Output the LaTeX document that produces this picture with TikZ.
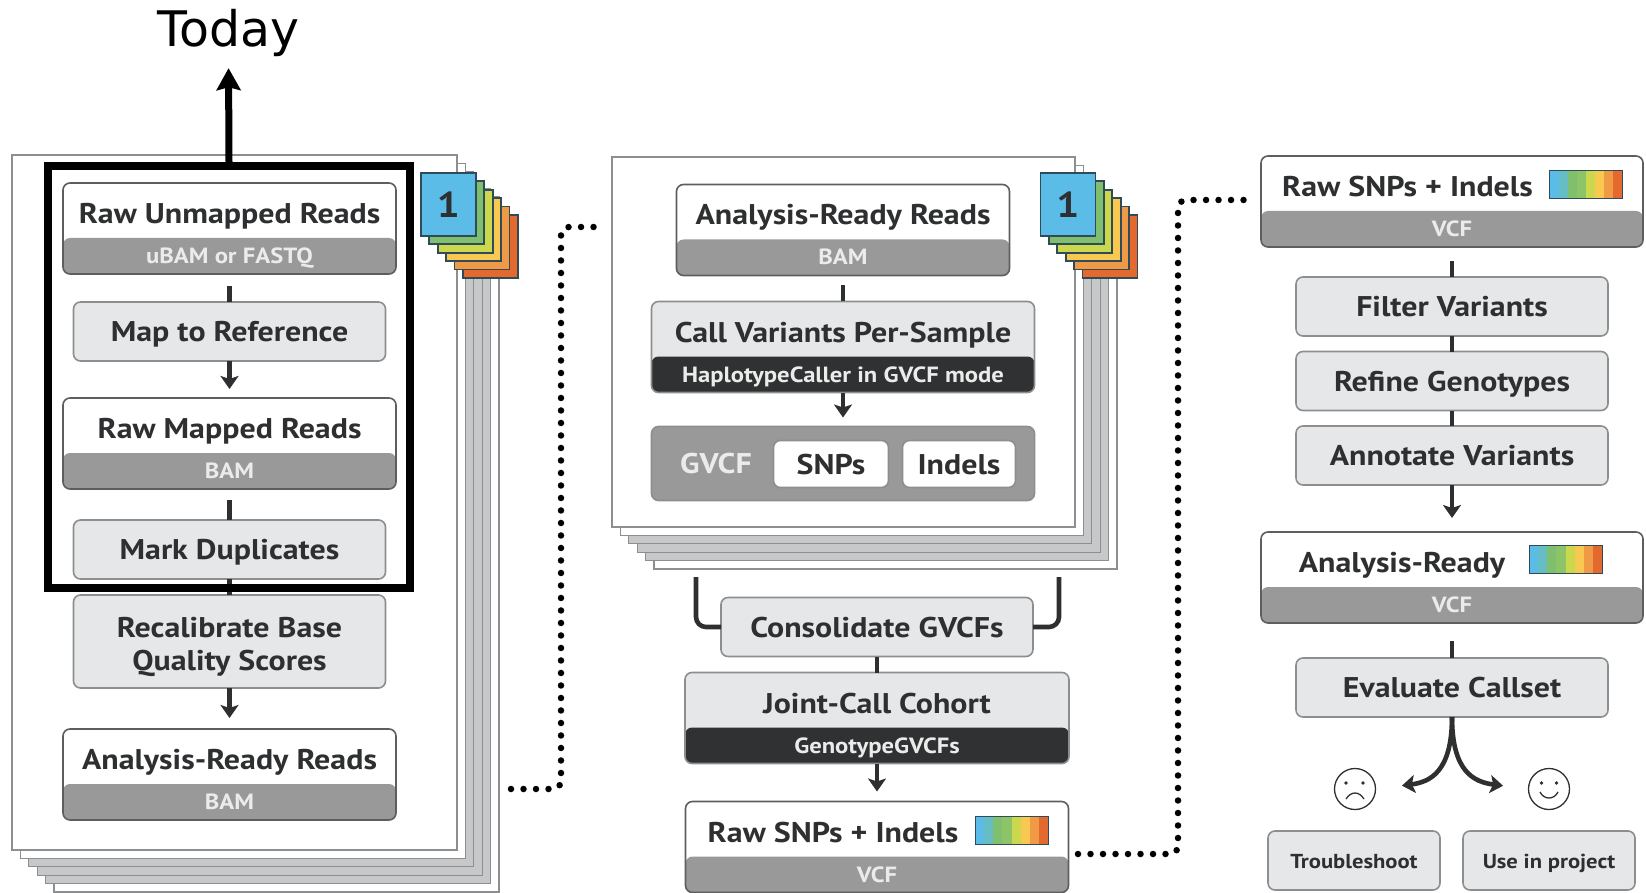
\documentclass[tikz,border=0pt]{standalone}
\usepackage{fontspec}
\setmainfont[FakeStretch=1.12]{PT Sans}
\newfontfamily\todayfont{DejaVu Sans}
\usetikzlibrary{positioning,arrows.meta}
\definecolor{ink}{HTML}{2E2F30}
\definecolor{boxfill}{HTML}{E6E7E8}
\definecolor{stepedge}{HTML}{8C8E90}
\definecolor{dataedge}{HTML}{5C5E60}
\definecolor{bandgrey}{HTML}{999999}
\definecolor{banddark}{HTML}{303132}
\definecolor{pagegrey}{HTML}{C6C8CA}
\definecolor{flagedge}{HTML}{2F4A58}
\definecolor{flagA}{HTML}{5BBCE8}
\definecolor{flagB}{HTML}{7FBF6E}
\definecolor{flagC}{HTML}{CBD84E}
\definecolor{flagD}{HTML}{F8C850}
\definecolor{flagE}{HTML}{F09A45}
\definecolor{flagF}{HTML}{E4692F}

\begin{document}
\begin{tikzpicture}[x=1pt,y=-1pt,
    base/.style={inner sep=0pt, outer sep=0pt, rounded corners=7pt, line width=1.6pt, text=ink},
    stepbox/.style={base, draw=stepedge, fill=boxfill, minimum width=312pt, minimum height=59pt, text height=20pt, text depth=0pt, font=\bfseries\fontsize{28.5}{33}\selectfont},
    smallbox/.style={stepbox, minimum width=172pt, text height=15pt, font=\bfseries\fontsize{20.2}{25}\selectfont},
    databox/.style={base, draw=dataedge, fill=white, minimum width=333pt, minimum height=91pt, path picture={\fill[#1] ([yshift=36pt]path picture bounding box.south west) rectangle (path picture bounding box.south east);}},
    title/.style={inner sep=0pt, text=ink, text height=20pt, text depth=0pt, font=\bfseries\fontsize{28.5}{33}\selectfont},
    sub/.style={inner sep=0pt, text=white!92!black, text height=15pt, text depth=0pt, font=\bfseries\fontsize{22}{25}\selectfont},
    page/.style={draw=stepedge, line width=1.3pt},
    flag/.style={draw=flagedge, line width=1.8pt, minimum width=55pt, minimum height=63pt, inner sep=0pt, anchor=north west},
    strip/.style={draw=flagedge, line width=1pt, minimum width=73pt, minimum height=28pt, inner sep=0pt, path picture={
        \foreach \c [count=\i from 0] in {flagA,flagA!70!flagB,flagB,flagB!80!flagC,flagC,flagD,flagE,flagF}
            \fill[\c] ([xshift=\i*9.125pt]path picture bounding box.south west) rectangle ++(9.2pt,30pt);}},
    face/.style={circle, draw=ink, line width=1.3pt, minimum size=41pt, inner sep=0pt},
    link/.style={line width=4.6pt, draw=ink},
    >={Stealth[length=13pt,width=18pt,inset=3pt]},
    dots/.style={line width=6.5pt, line cap=round, dash pattern=on 0pt off 12.5pt, rounded corners=8pt}]
    \useasboundingbox (0,0) rectangle (1646,893);
    % Pages
    \foreach \px/\py/\pw/\ph in {12/155/445/695, 612/157/463/370}
        \foreach \d/\c in {42/white,33.6/pagegrey,25.2/pagegrey,16.8/pagegrey,8.4/white,0/white}
            \draw[page,fill=\c] ({\px+\d},{\py+\d}) rectangle ++(\pw,\ph);
    % Flags
    \foreach \px/\nm in {420/L,1039.5/M}
        \foreach \i/\c in {5/flagF,4/flagE,3/flagD,2/flagC,1/flagB}
            \node[flag,fill=\c] (flag\nm\i) at ({\px+\i*8.4},{172+\i*8.4}) {};
    \node[flag,fill=flagA,font=\bfseries\fontsize{36}{40}\selectfont,text=ink] (flagL0) at (420,172) {1};
    \node[flag,fill=flagA,font=\bfseries\fontsize{36}{40}\selectfont,text=ink] (flagM0) at (1039.5,172) {1};
    % Nodes, left
    \node[databox=bandgrey] (rawun) at (229.5,228.5) {};
    \node[title] (rawunT) at ([yshift=-30.5pt]rawun.north) {Raw Unmapped Reads};
    \node[sub] (rawunS) at ([yshift=18pt]rawun.south) {uBAM or FASTQ};
    \node[stepbox] (map) [below=28pt of rawun] {Map to Reference};
    \node[databox=bandgrey] (rawmap) [below=37pt of map] {};
    \node[title] (rawmapT) at ([yshift=-30.5pt]rawmap.north) {Raw Mapped Reads};
    \node[sub] (rawmapS) at ([yshift=18pt]rawmap.south) {BAM};
    \node[stepbox] (mark) [below=31pt of rawmap] {Mark Duplicates};
    \node[stepbox,minimum height=93pt,text height=,text depth=] (recal) [below=16pt of mark] {};
    \node[title,align=center,text height=,text depth=] (recalT) at ([yshift=-5pt]recal.center) {Recalibrate Base\\Quality Scores};
    \node[databox=bandgrey] (readyL) [below=41pt of recal] {};
    \node[title] (readyLT) at ([yshift=-30.5pt]readyL.north) {Analysis-Ready Reads};
    \node[sub] (readyLS) at ([yshift=18pt]readyL.south) {BAM};
    % Nodes, middle
    \node[databox=bandgrey] (readyM) at (843,230) {};
    \node[title] (readyMT) at ([yshift=-30.5pt]readyM.north) {Analysis-Ready Reads};
    \node[sub] (readyMS) at ([yshift=18pt]readyM.south) {BAM};
    \node[databox=banddark,fill=boxfill,draw=stepedge,minimum width=383pt] (call) [below=26pt of readyM] {};
    \node[title] (callT) at ([yshift=-31pt]call.north) {Call Variants Per-Sample};
    \node[sub] (callS) at ([yshift=18pt]call.south) {HaplotypeCaller in GVCF mode};
    \node[base,draw=stepedge,fill=bandgrey,minimum width=383pt,minimum height=74pt] (gvcf) [below=34pt of call] {};
    \node[title,text=white!92!black] (gvcfT) at (716,463) {GVCF};
    \node[stepbox,fill=white,minimum width=115pt,minimum height=47pt] (snps) at (831,464) {SNPs};
    \node[stepbox,fill=white,minimum width=113pt,minimum height=47pt] (indels) at (959,464) {Indels};
    \node[stepbox] (cons) at (877,627) {Consolidate GVCFs};
    \node[databox=banddark,fill=boxfill,draw=stepedge,minimum width=384pt] (joint) [below=16pt of cons] {};
    \node[title] (jointT) at ([yshift=-30.5pt]joint.north) {Joint-Call Cohort};
    \node[sub] (jointS) at ([yshift=18pt]joint.south) {GenotypeGVCFs};
    \node[databox=bandgrey,minimum width=383pt] (rawM) [below=38pt of joint] {};
    \node[title] (rawMT) at ([xshift=-44pt,yshift=-31pt]rawM.north) {Raw SNPs + Indels};
    \node[sub] (rawMS) at ([yshift=18pt]rawM.south) {VCF};
    \node[strip] (stripM) at ([xshift=134.5pt,yshift=-29pt]rawM.north) {};
    % Nodes, right
    \node[databox=bandgrey,minimum width=382pt] (rawR) at (1452,201.5) {};
    \node[title] (rawRT) at ([xshift=-44.5pt,yshift=-30.5pt]rawR.north) {Raw SNPs + Indels};
    \node[sub] (rawRS) at ([yshift=18pt]rawR.south) {VCF};
    \node[strip] (stripR) at ([xshift=134pt,yshift=-28.5pt]rawR.north) {};
    \node[stepbox] (filter) [below=30pt of rawR] {Filter Variants};
    \node[stepbox] (refine) [below=15.5pt of filter] {Refine Genotypes};
    \node[stepbox] (annot) [below=15.5pt of refine] {Annotate Variants};
    \node[databox=bandgrey,minimum width=382pt] (readyR) [below=47pt of annot] {};
    \node[title] (readyRT) at ([xshift=-50pt,yshift=-30.5pt]readyR.north) {Analysis-Ready};
    \node[sub] (readyRS) at ([yshift=18pt]readyR.south) {VCF};
    \node[strip] (stripA) at ([xshift=113.5pt,yshift=-27pt]readyR.north) {};
    \node[stepbox] (eval) [below=35pt of readyR] {Evaluate Callset};
    \node[face] (sad) at (1355,789) {};
    \node[face] (happy) at (1549,789) {};
    \node[smallbox] (trouble) at (1354,860.5) {Troubleshoot};
    \node[smallbox] (use) at (1549,860.5) {Use in project};
    % Faces
    \foreach \e in {-9,8} \fill[ink] ([shift={(\e,-6)}]sad.center) circle (1.9pt);
    \foreach \e in {-7.5,7.5} \fill[ink] ([shift={(\e,-6)}]happy.center) circle (1.9pt);
    \draw[ink,line width=1.3pt] ([shift={(-9,10)}]sad.center) .. controls ([shift={(-4,2)}]sad.center) and ([shift={(4,2)}]sad.center) .. ([shift={(9,10)}]sad.center);
    \draw[ink,line width=1.3pt] ([shift={(-9,3)}]happy.center) .. controls ([shift={(-5,11)}]happy.center) and ([shift={(5,11)}]happy.center) .. ([shift={(9,3)}]happy.center);
    % Edges
    \draw[link,shorten <=12pt] (rawun) -- (map);
    \draw[link,->,shorten >=9pt] (map) -- (rawmap);
    \draw[link,shorten <=11pt] (rawmap) -- (mark);
    \draw[link] (mark) -- (recal);
    \draw[link,->,shorten >=11pt] (recal) -- (readyL);
    \draw[link,shorten <=10pt] (readyM) -- (call);
    \draw[link,->,shorten >=9pt] (call) -- (gvcf);
    \coordinate (brackL) at (696,577);
    \coordinate (brackR) at (1059,577);
    \draw[link,rounded corners=10pt] (brackL) |- (cons.west);
    \draw[link,rounded corners=10pt] (brackR) |- (cons.east);
    \draw[link] (cons) -- (joint);
    \draw[link,->,shorten >=10pt] (joint) -- (rawM);
    \draw[link,shorten <=14pt] (rawR) -- (filter);
    \draw[link] (filter) -- (refine);
    \draw[link] (refine) -- (annot);
    \draw[link,->,shorten >=14pt] (annot) -- (readyR);
    \draw[link,shorten <=18pt] (readyR) -- (eval);
    \draw[link,->,shorten >=26pt] (eval.south) .. controls (1452,772) and (1430,782) .. (sad.east);
    \draw[link,->,shorten >=25pt] (eval.south) .. controls (1452,772) and (1474,782) .. (happy.west);
    \coordinate (outL) at (511,789);
    \coordinate (inM) at (606,227);
    \draw[dots] (outL) -- ++(50,0) |- (inM);
    \coordinate (outM) at (1078,854);
    \coordinate (inR) at (1249,200);
    \draw[dots] (outM) -- ++(100,0) |- (inR);
    % Focus
    \node[draw=black,line width=8pt,inner sep=0pt,minimum width=362pt,minimum height=422pt] (focus) at (229,377) {};
    \node[anchor=base,inner sep=0pt,text depth=11pt,font=\todayfont\fontsize{49}{50}\selectfont] (today) at (228.5,47) {Today};
    \draw[line width=7pt,-{Stealth[length=22pt,width=24pt,inset=3pt]},shorten >=10pt] (focus.north) -- (today.south);
\end{tikzpicture}
\end{document}
